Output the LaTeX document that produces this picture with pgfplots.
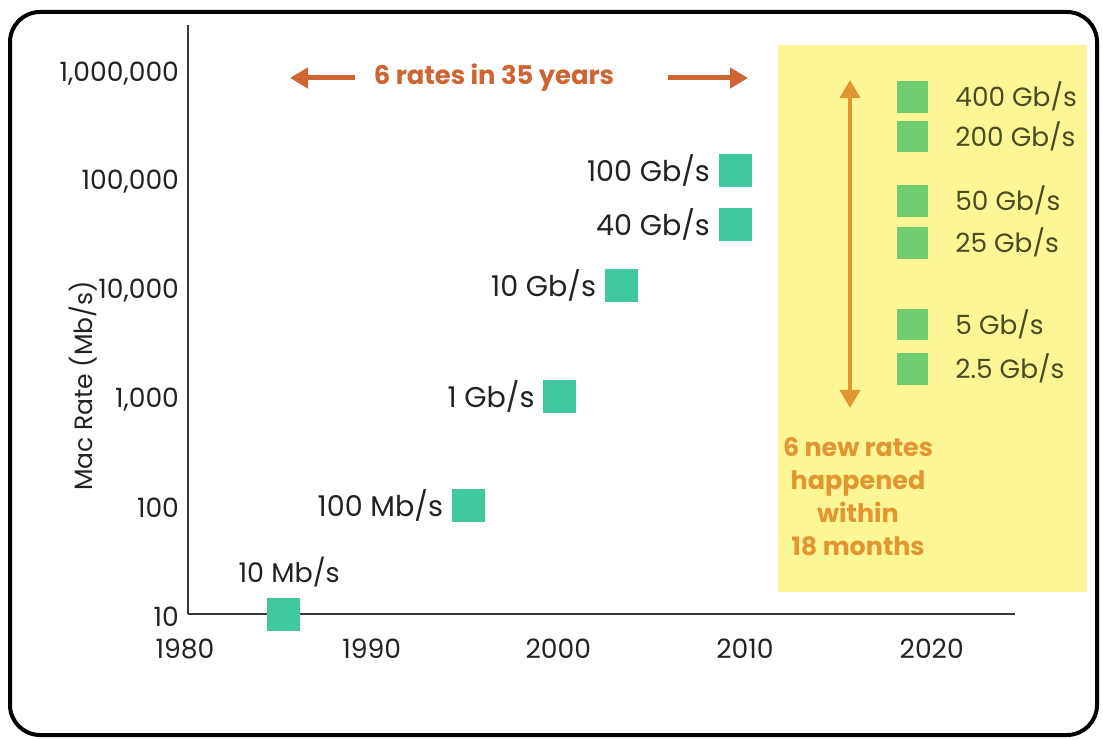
\documentclass[border=0pt]{standalone}
\usepackage{pgfplots}
\pgfplotsset{compat=1.18}
\usepackage{pgfplotstable}
\usepackage{fontspec}
\setmainfont{Poppins}
\usetikzlibrary{arrows.meta}
\definecolor{txtc}{RGB}{34,34,34}
\definecolor{tealc}{RGB}{64,200,160}
\definecolor{greenc}{RGB}{112,206,112}
\definecolor{yellowc}{RGB}{252,246,150}
\definecolor{orangec}{RGB}{205,100,50}
\definecolor{goldc}{RGB}{225,150,50}
\definecolor{olivec}{RGB}{72,76,34}

\pgfplotstableread{
x y label
1995.0 100 {100 Mb/s}
1999.9 1000 {1 Gb/s}
2003.2 10500 {10 Gb/s}
2009.3 38500 {40 Gb/s}
2009.3 120000 {100 Gb/s}
}\maindata
\pgfplotstableread{
x y label
1985.1 10 {10 Mb/s}
}\firstdata
\pgfplotstableread{
x y label
2018.8 570000 {400 Gb/s}
2018.8 246000 {200 Gb/s}
2018.8 63000 {50 Gb/s}
2018.8 26000 {25 Gb/s}
2018.8 4600 {5 Gb/s}
2018.8 1800 {2.5 Gb/s}
}\newdata

\begin{document}
\begin{tikzpicture}
\useasboundingbox (0,0) rectangle (551.5pt,369.5pt);
\fill[white] (0,0) rectangle (551.5pt,369.5pt);
\fill[yellowc] (389pt,73.5pt) rectangle (543.5pt,347pt);
\begin{axis}[
  at={(94pt,62.5pt)}, anchor=south west,
  scale only axis, width=413.5pt, height=294.5pt,
  xmin=1980, xmax=2024.3, ymin=10, ymax=2.6e6, ymode=log,
  axis x line=bottom, axis y line=left,
  axis line style={-, line width=1pt, draw=txtc!90},
  major tick length=0pt, minor tick num=0,
  xtick={1980,1990,2000,2010,2020},
  xticklabels={1980,1990,2000,2010,2020},
  ytick={10,100,1000,10000,100000,1000000},
  yticklabels={10,100,{1,000},{10,000},{100,000},{1,000,000}},
  log basis y=10,
  ticklabel style={font=\fontsize{13.3}{15}\selectfont, text=txtc},
  xticklabel style={yshift=-9pt, xshift=-1.5pt},
  yticklabel style={xshift=-1pt, yshift=-1.5pt},
  clip=false,
]
\addplot[only marks, mark=square*, mark size=8pt, color=tealc,
  nodes near coords, point meta=explicit symbolic,
  every node near coord/.append style={anchor=east, xshift=-9pt, text=txtc, font=\fontsize{14.3}{16}\selectfont}]
  table[x=x,y=y,meta=label] {\maindata};
\addplot[only marks, mark=square*, mark size=8pt, color=tealc,
  nodes near coords, point meta=explicit symbolic,
  every node near coord/.append style={anchor=south, xshift=3pt, yshift=10pt, text=txtc, font=\fontsize{13.5}{15}\selectfont}]
  table[x=x,y=y,meta=label] {\firstdata};
\addplot[only marks, mark=square*, mark size=7.7pt, color=greenc,
  nodes near coords, point meta=explicit symbolic,
  every node near coord/.append style={anchor=west, xshift=18pt, text=olivec, font=\fontsize{13.2}{15}\selectfont}]
  table[x=x,y=y,meta=label] {\newdata};
\end{axis}
% annotations
\draw[orangec, line width=2.5pt, -{Triangle[length=9pt,width=10pt]}] (177.5pt,330.5pt) -- (145pt,330.5pt);
\draw[orangec, line width=2.5pt, -{Triangle[length=9pt,width=10pt]}] (334pt,330.5pt) -- (374pt,330.5pt);
\node[text=orangec, font=\fontsize{12.9}{15}\selectfont\bfseries] at (247pt,330.5pt) {6 rates in 35 years};
\draw[goldc, line width=2pt, {Triangle[length=9pt,width=10pt]}-{Triangle[length=9pt,width=10pt]}] (425pt,329.5pt) -- (425pt,165.5pt);
\node[text=goldc, font=\fontsize{12.7}{16.5}\selectfont\bfseries, align=center] at (429pt,121pt) {6 new rates\\happened\\within\\18 months};
\node[rotate=90, text=txtc, font=\fontsize{12.5}{15}\selectfont] at (41.5pt,176.5pt) {Mac Rate (Mb/s)};
\draw[black, line width=2pt, rounded corners=15pt] (5pt,2pt) rectangle (548.5pt,363.5pt);
\end{tikzpicture}
\end{document}
